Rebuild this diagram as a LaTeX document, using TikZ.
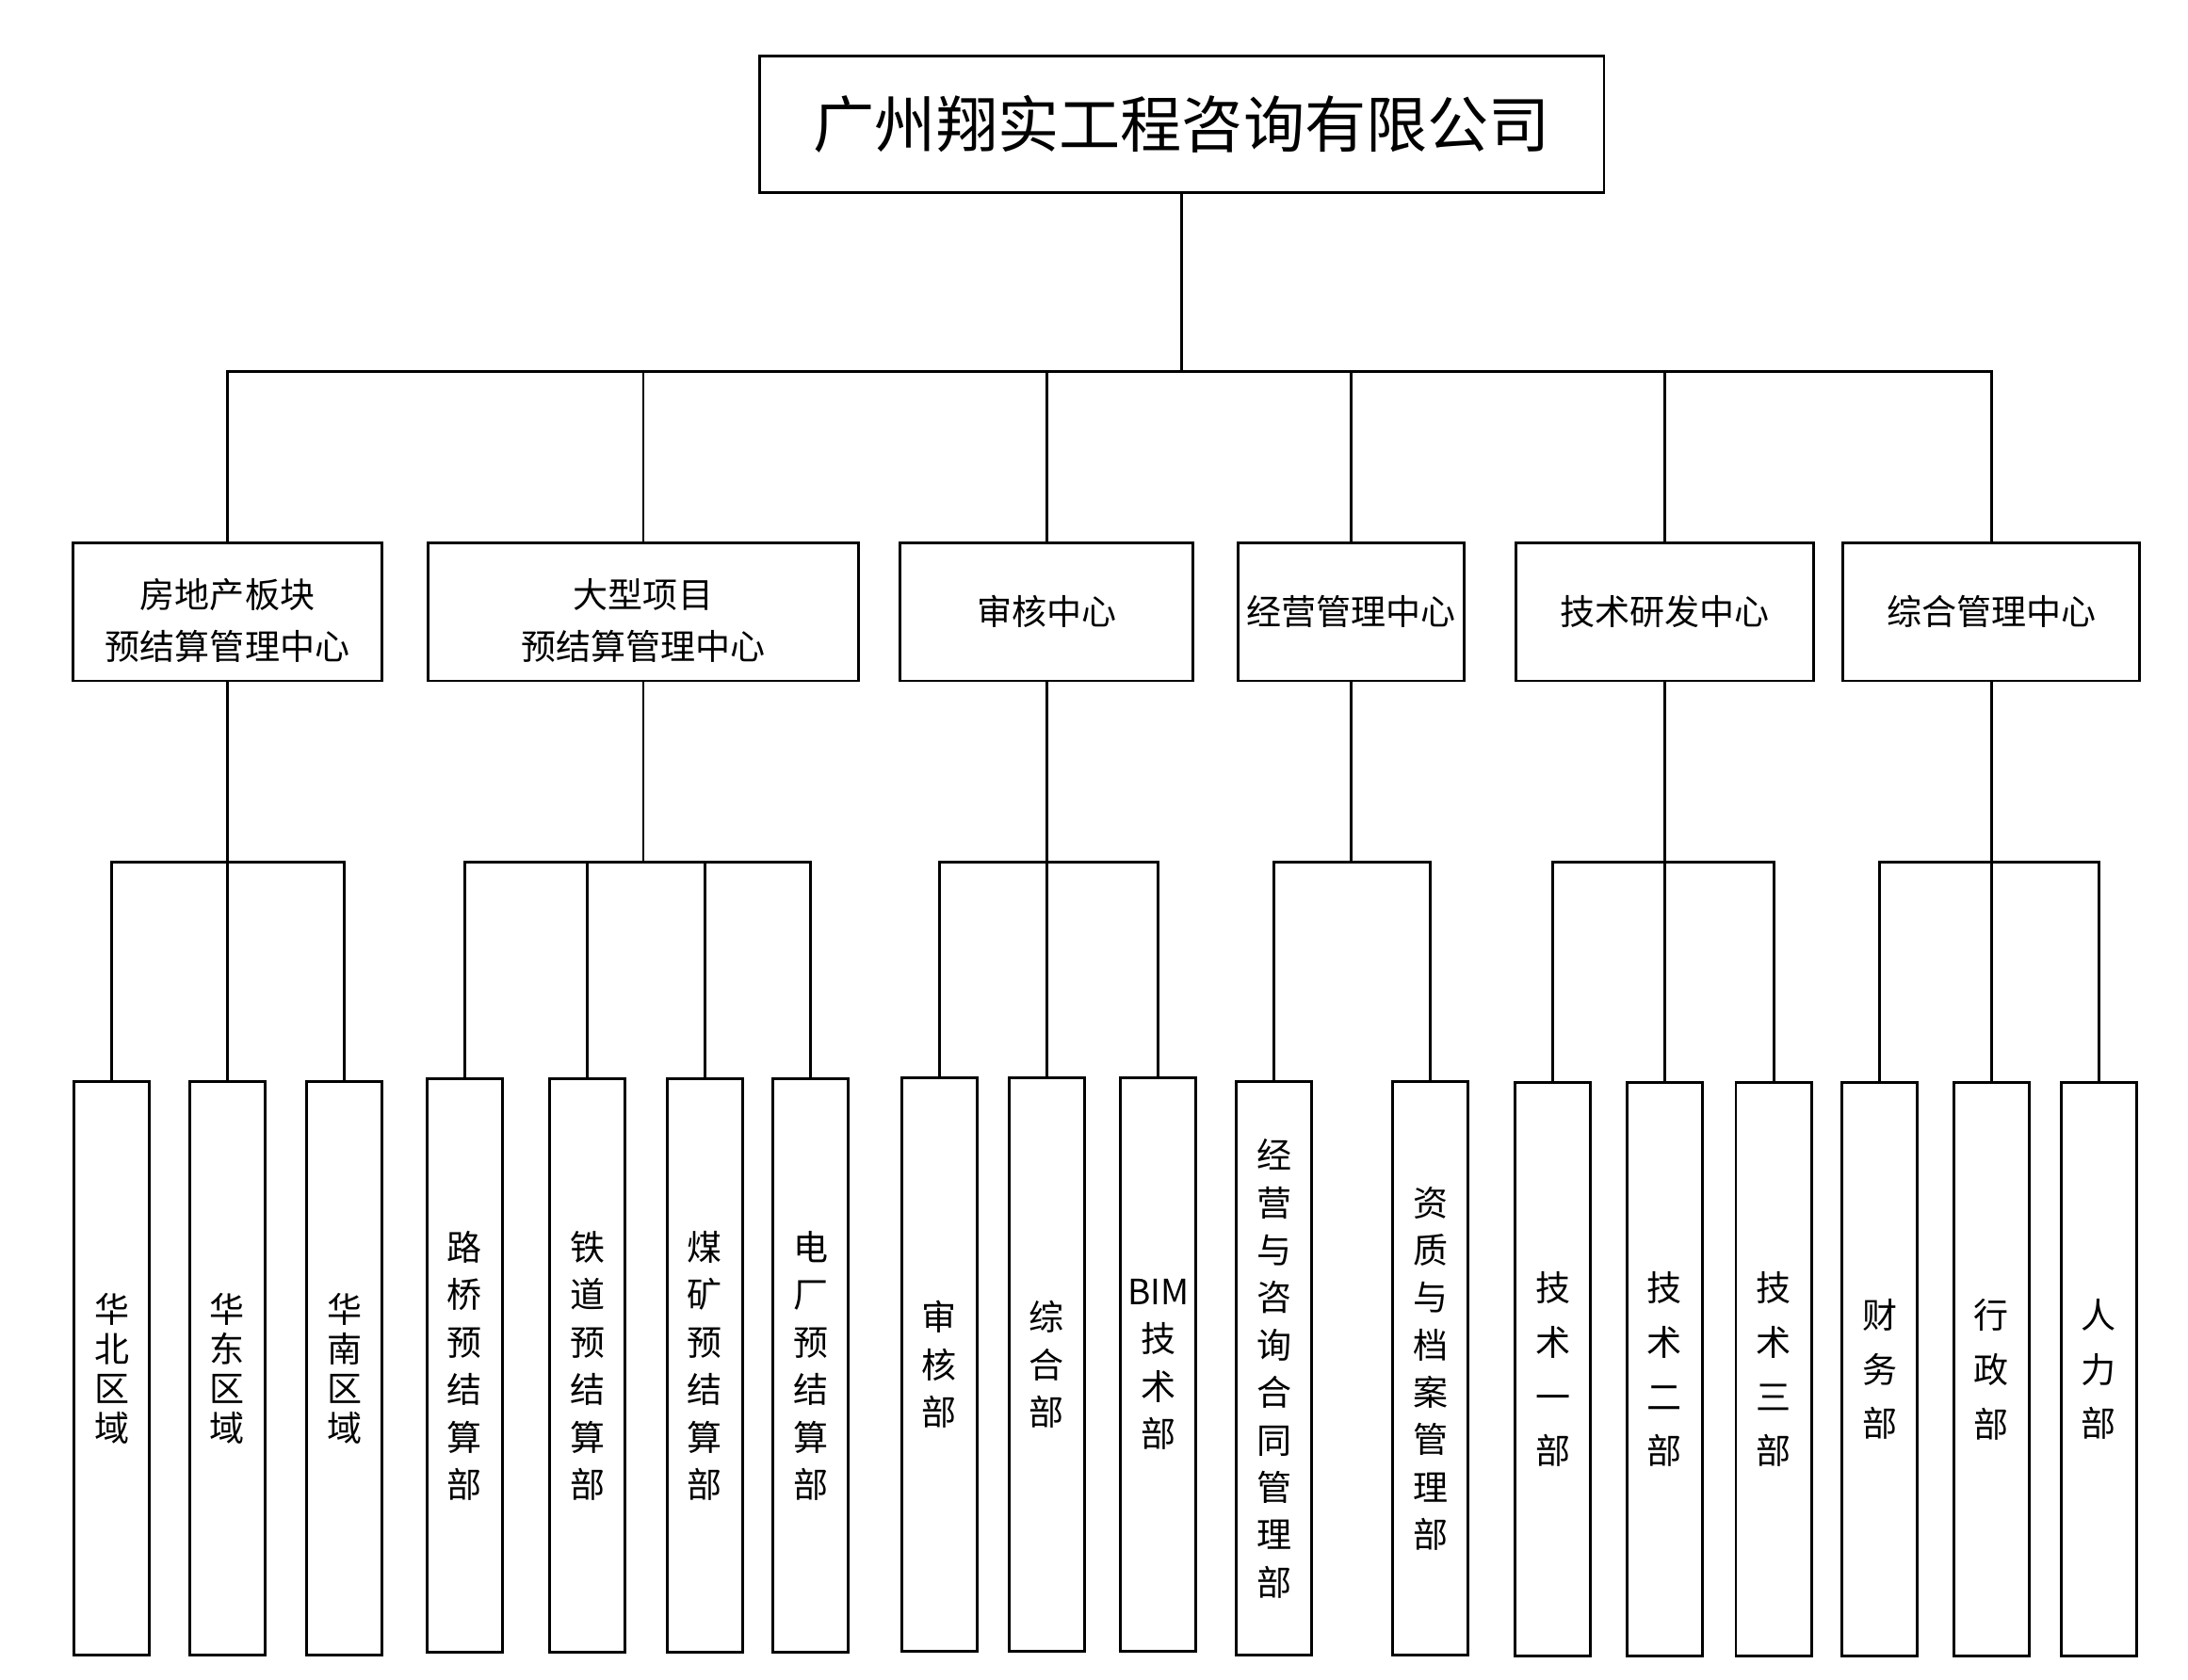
\documentclass[tikz,border=0pt]{standalone}
\usepackage{fontspec}
\setmainfont{Noto Sans CJK SC}
\begin{document}
\begin{tikzpicture}[x=1pt, y=-1pt, line width=2pt,
    company/.style={draw, rectangle, minimum width=605pt, minimum height=98pt, inner sep=0pt, font=\fontsize{44}{50}\selectfont},
    centre/.style={draw, rectangle, minimum height=99pt, inner sep=0pt, align=center, font=\fontsize{25}{37}\selectfont},
    dept/.style={draw, rectangle, minimum width=54pt, minimum height=411pt, inner sep=0pt, align=center, font=\fontsize{25}{34}\selectfont},
    narrowgap/.style={font=\fontsize{25}{28.5}\selectfont},
    widegap/.style={font=\fontsize{25}{39}\selectfont}]
    \useasboundingbox (0,0) rectangle (1568,1204);

    % Nodes
    \node[company] (company) at (847,89) {广州翔实工程咨询有限公司};

    \node[centre, minimum width=221pt] (house) at (163,438.5) {\rule{0pt}{34pt}房地产板块\\预结算管理中心};
    \node[centre, minimum width=309pt] (major) at (461,438.5) {\rule{0pt}{34pt}大型项目\\预结算管理中心};
    \node[centre, minimum width=210pt] (audit) at (750,438.5) {审核中心};
    \node[centre, minimum width=162pt] (business) at (968,438.5) {经营管理中心};
    \node[centre, minimum width=213pt] (tech) at (1193,438.5) {技术研发中心};
    \node[centre, minimum width=213pt] (admin) at (1427,438.5) {综合管理中心};

    \node[dept, narrowgap] (north) at (80,981) {华\\北\\区\\域};
    \node[dept, narrowgap] (east) at (163,981) {华\\东\\区\\域};
    \node[dept, narrowgap] (south) at (247,981) {华\\南\\区\\域};

    \node[dept] (road) at (333,979) {路\\桥\\预\\结\\算\\部};
    \node[dept] (rail) at (421,979) {铁\\道\\预\\结\\算\\部};
    \node[dept] (coal) at (505,979) {煤\\矿\\预\\结\\算\\部};
    \node[dept] (power) at (581,979) {电\\厂\\预\\结\\算\\部};

    \node[dept] (review) at (673,978) {审\\核\\部};
    \node[dept] (general) at (750,978) {综\\合\\部};
    \node[dept] (bim) at (830,978) {BIM\\技\\术\\部};

    \node[dept] (contract) at (913,981) {经\\营\\与\\咨\\询\\合\\同\\管\\理\\部};
    \node[dept] (archive) at (1025,981) {资\\质\\与\\档\\案\\管\\理\\部};

    \node[dept, widegap] (techA) at (1113,981.5) {技\\术\\一\\部};
    \node[dept, widegap] (techB) at (1193,981.5) {技\\术\\二\\部};
    \node[dept, widegap] (techC) at (1271,981.5) {技\\术\\三\\部};

    \node[dept, widegap] (finance) at (1347,981.5) {财\\务\\部};
    \node[dept, widegap] (office) at (1427,981.5) {行\\政\\部};
    \node[dept, widegap] (staff) at (1504,981.5) {人\\力\\部};

    % Lines
    \coordinate (bus) at (0,266);
    \coordinate (sub) at (0,618);
    \draw (company.south) -- (company.south |- bus);
    \draw (house.north) |- (admin.north |- bus) -- (admin.north);
    \foreach \c in {major, audit, business, tech}
        \draw (\c.north) -- (\c.north |- bus);

    \foreach \c in {house, major, audit, business, tech, admin}
        \draw (\c.south) -- (\c.south |- sub);

    \draw (north.north) |- (south.north |- sub) -- (south.north);
    \draw (east.north) -- (east.north |- sub);
    \draw (road.north) |- (power.north |- sub) -- (power.north);
    \draw (rail.north) -- (rail.north |- sub);
    \draw (coal.north) -- (coal.north |- sub);
    \draw (review.north) |- (bim.north |- sub) -- (bim.north);
    \draw (general.north) -- (general.north |- sub);
    \draw (contract.north) |- (archive.north |- sub) -- (archive.north);
    \draw (techA.north) |- (techC.north |- sub) -- (techC.north);
    \draw (techB.north) -- (techB.north |- sub);
    \draw (finance.north) |- (staff.north |- sub) -- (staff.north);
    \draw (office.north) -- (office.north |- sub);
\end{tikzpicture}
\end{document}
